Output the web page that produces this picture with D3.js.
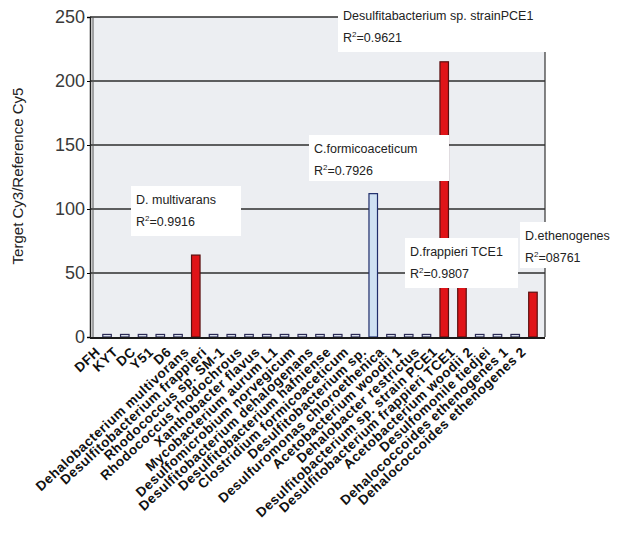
<!DOCTYPE html>
<html lang="en">
<head>
  <meta charset="UTF-8" />
  <title>Target Cy3 / Reference Cy5</title>
  <script src="https://d3js.org/d3.v7.min.js"></script>
  <style>
    body { margin: 0; background: #fff; }
    svg { display: block; font-family: "Liberation Sans", Arial, sans-serif; }
  </style>
</head>
<body>
  <div id="chart"></div>
  <script>
    var w = 635;
    var h = 537;

    // strains on the array, in plot order
    var strains = [
      "DFH", "KYT", "DC", "Y51", "D6",
      "Dehalobacterium multivorans",
      "Desulfitobacterium frappieri",
      "Rhodococcus sp. SM-1",
      "Rhodococcus rhodochrous",
      "Xanthobacter flavus",
      "Mycobacterium aurum L1",
      "Desulfomicrobium norvegicum",
      "Desulfitobacterium dehalogenans",
      "Desulfitobacterium hafniense",
      "Clostridium formicoaceticum",
      "Desulfitobacterium sp.",
      "Desulfuromonas chloroethenica",
      "Acetobacterium woodii 1",
      "Dehalobacter restrictus",
      "Desulfitobacterium sp. strain PCE1",
      "Desulfitobacterium frappieri TCE1",
      "Acetobacterium woodii 2",
      "Desulfomonile tiedjei",
      "Dehalococcoides ethenogenes 1",
      "Dehalococcoides ethenogenes 2"
    ];

    // signal ratio per strain
    var ratios = [2, 2, 2, 2, 2, 64, 2, 2, 2, 2, 2, 2, 2, 2, 2, 112, 2, 2, 2, 215, 60, 2, 2, 2, 35];
    // 0 = background, 1 = red (detected), 2 = blue
    var kinds = [0, 0, 0, 0, 0, 1, 0, 0, 0, 0, 0, 0, 0, 0, 0, 2, 0, 0, 0, 1, 1, 0, 0, 0, 1];

    var yTicks = [0, 50, 100, 150, 200, 250];

    var notes = [
      { name: "D. multivarans", r2: "0.9916", x: 131, y: 186, bw: 110, bh: 50 },
      { name: "C.formicoaceticum", r2: "0.7926", x: 309, y: 135, bw: 140, bh: 46 },
      { name: "Desulfitabacterium sp. strainPCE1", r2: "0.9621", x: 338, y: 2, bw: 240, bh: 50 },
      { name: "D.frappieri TCE1", r2: "0.9807", x: 405, y: 238, bw: 113, bh: 50 },
      { name: "D.ethenogenes", r2: "08761", x: 520, y: 222, bw: 112, bh: 46 }
    ];

    var data = strains.map(function(s, i) {
      return { name: s, v: ratios[i], k: kinds[i] };
    });

    var pL = 90, pR = 545, pT = 17, pB = 337;

    var svg = d3.select("#chart").append("svg")
      .attr("width", w)
      .attr("height", h);

    var x = d3.scaleBand()
      .domain(strains)
      .range([98, 542])
      .paddingInner(0.52)
      .paddingOuter(0.27);

    var y = d3.scaleLinear()
      .domain([0, 250])
      .range([pB, pT]);

    // plot wall
    svg.append("rect")
      .attr("x", pL + 2)
      .attr("y", pT)
      .attr("width", pR - pL - 2)
      .attr("height", pB - pT)
      .attr("fill", "#eceef2");

    // gridlines
    svg.selectAll("line.grid")
      .data(yTicks.slice(1))
      .enter()
      .append("line")
      .attr("class", "grid")
      .attr("x1", pL)
      .attr("x2", pR)
      .attr("y1", function(d) { return y(d); })
      .attr("y2", function(d) { return y(d); })
      .attr("stroke", "#2e2e2e")
      .attr("stroke-width", 1.6);

    // right wall edge
    svg.append("line")
      .attr("x1", pR).attr("x2", pR)
      .attr("y1", pT).attr("y2", pB)
      .attr("stroke", "#333").attr("stroke-width", 1.2);

    // y axis
    var yAxis = svg.append("g")
      .attr("transform", "translate(" + pL + ",0)")
      .call(d3.axisLeft(y).tickValues(yTicks).tickSize(3).tickPadding(2));
    yAxis.select(".domain").attr("stroke", "#222").attr("stroke-width", 1.5);
    yAxis.selectAll("text")
      .style("font-size", "18px")
      .style("font-family", "'Liberation Sans', Arial, sans-serif")
      .attr("fill", "#3a3a3a");

    svg.append("line")
      .attr("x1", pL + 3).attr("x2", pL + 3)
      .attr("y1", pT).attr("y2", pB)
      .attr("stroke", "#555").attr("stroke-width", 1);

    // bars
    var fills = ["#dfe6f0", "#e01418", "#cfe1f3"];
    var strokes = ["#2a2a55", "#5a1010", "#1f2d6b"];
    svg.selectAll("rect.bar")
      .data(data)
      .enter()
      .append("rect")
      .attr("class", "bar")
      .attr("x", function(d) { return x(d.name); })
      .attr("y", function(d) { return y(d.v); })
      .attr("width", x.bandwidth())
      .attr("height", function(d) { return y(0) - y(d.v); })
      .attr("fill", function(d) { return fills[d.k]; })
      .attr("stroke", function(d) { return strokes[d.k]; })
      .attr("stroke-width", 1.2);

    // floor
    svg.append("line")
      .attr("x1", pL).attr("x2", pR)
      .attr("y1", pB + 1).attr("y2", pB + 1)
      .attr("stroke", "#1a1a1a").attr("stroke-width", 2.2);

    // category labels
    svg.selectAll("text.cat")
      .data(strains)
      .enter()
      .append("text")
      .attr("class", "cat")
      .attr("text-anchor", "end")
      .attr("transform", function(d) {
        return "translate(" + (x(d) + x.bandwidth() / 2 - 6) + "," + (pB + 16) + ") rotate(-43)";
      })
      .style("font-size", "13.5px")
      .style("font-weight", "bold")
      .style("letter-spacing", "0.5px")
      .attr("fill", "#111")
      .text(function(d) { return d; });

    // y title
    svg.append("text")
      .attr("transform", "translate(23,176) rotate(-90)")
      .attr("text-anchor", "middle")
      .style("font-size", "15px")
      .attr("fill", "#222")
      .text("Terget Cy3/Reference Cy5");

    // annotation boxes
    var note = svg.selectAll("g.note")
      .data(notes)
      .enter()
      .append("g")
      .attr("class", "note")
      .attr("transform", function(d) { return "translate(" + d.x + "," + d.y + ")"; });

    note.append("rect")
      .attr("width", function(d) { return d.bw; })
      .attr("height", function(d) { return d.bh; })
      .attr("fill", "#fff");

    note.append("text")
      .attr("x", 5)
      .attr("y", 18)
      .style("font-size", "12.5px")
      .attr("fill", "#222")
      .text(function(d) { return d.name; });

    var r2 = note.append("text")
      .attr("x", 5)
      .attr("y", 40)
      .style("font-size", "12.5px")
      .attr("fill", "#222");
    r2.append("tspan").text("R");
    r2.append("tspan").attr("dy", -5).style("font-size", "8px").text("2");
    r2.append("tspan").attr("dy", 5).text(function(d) { return "=" + d.r2; });
  </script>
</body>
</html>
